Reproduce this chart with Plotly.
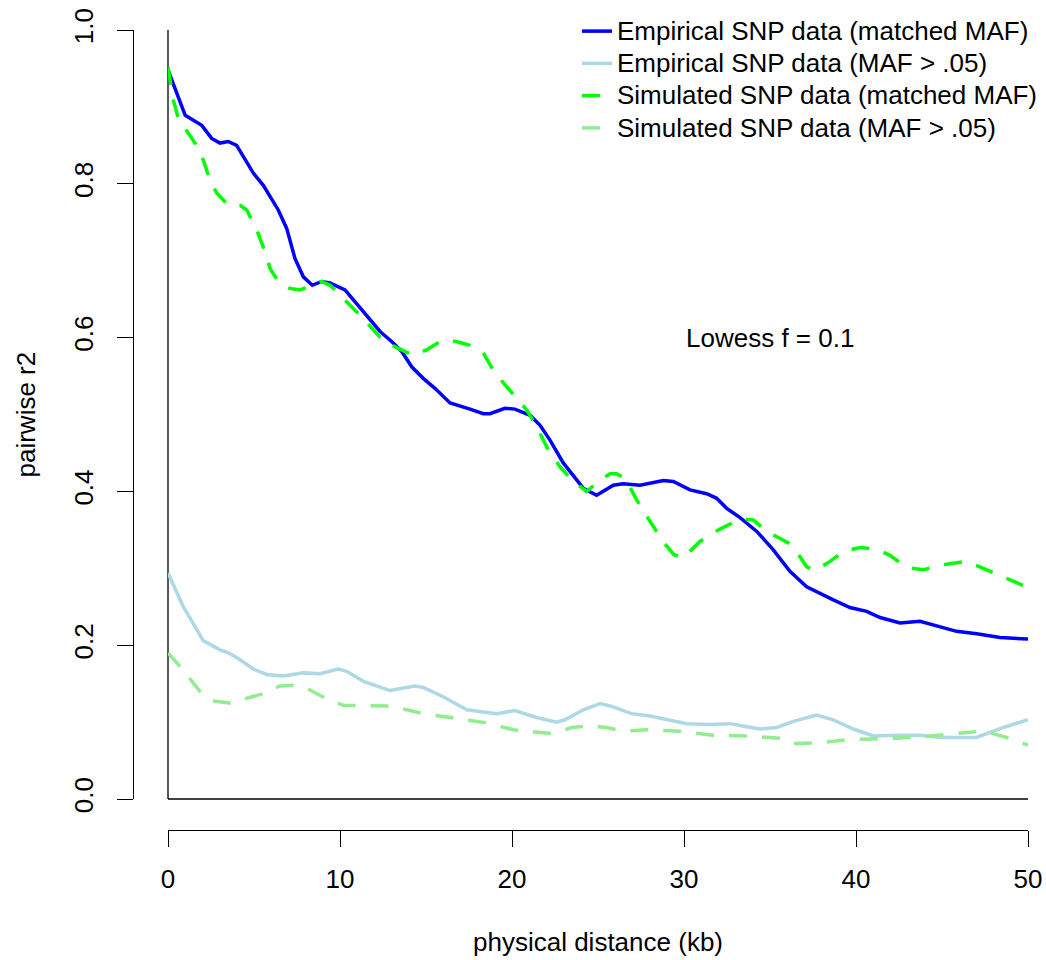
import plotly.graph_objects as go

# ---------------- data ----------------
emp_matched_x = [0, 1.0, 1.96, 2.54, 3.02, 3.5, 3.99, 4.96, 5.54, 6.41, 6.9, 7.38, 7.87, 8.39,
                 8.93, 9.42, 10.29, 10.87, 11.55, 12.33, 13.0, 13.59, 14.17, 14.84, 15.52, 16.4,
                 17.56, 18.33, 18.72, 19.59, 20.17, 21.05, 21.63, 22.2, 22.98, 24.15, 24.92,
                 25.89, 26.47, 27.44, 28.8, 29.38, 30.35, 31.32, 31.9, 32.48, 33.26, 34.23,
                 35.19, 36.16, 37.13, 38.1, 38.68, 39.65, 40.62, 41.4, 42.56, 43.72, 44.88,
                 45.85, 47.02, 48.37, 50]
emp_matched_y = [0.948, 0.889, 0.876, 0.859, 0.853, 0.855, 0.850, 0.814, 0.798, 0.766, 0.742,
                 0.703, 0.679, 0.668, 0.673, 0.671, 0.662, 0.647, 0.629, 0.608, 0.595, 0.582,
                 0.562, 0.547, 0.534, 0.515, 0.507, 0.501, 0.501, 0.508, 0.507, 0.499, 0.486,
                 0.467, 0.437, 0.404, 0.395, 0.408, 0.410, 0.408, 0.414, 0.413, 0.402, 0.397,
                 0.391, 0.378, 0.366, 0.348, 0.324, 0.296, 0.276, 0.265, 0.259, 0.249, 0.244,
                 0.236, 0.229, 0.231, 0.224, 0.218, 0.215, 0.210, 0.208]

emp_maf_x = [0, 0.89, 2.05, 3.02, 3.51, 3.99, 4.96, 5.74, 6.71, 7.87, 8.84, 9.9, 10.39, 11.36,
             12.91, 14.36, 14.84, 16.0, 17.37, 19.11, 20.17, 21.43, 22.59, 23.08, 24.15, 25.12,
             25.7, 26.96, 28.02, 29.0, 30.16, 31.51, 32.67, 33.64, 34.42, 35.39, 36.36, 37.71,
             38.68, 39.84, 41.0, 42.36, 43.72, 44.88, 45.85, 47.0, 47.6, 48.57, 50]
emp_maf_y = [0.294, 0.250, 0.206, 0.194, 0.190, 0.184, 0.169, 0.162, 0.160, 0.164, 0.163,
             0.169, 0.166, 0.153, 0.141, 0.147, 0.145, 0.133, 0.116, 0.111, 0.115, 0.106,
             0.100, 0.103, 0.116, 0.124, 0.121, 0.111, 0.108, 0.103, 0.098, 0.097, 0.098,
             0.094, 0.091, 0.093, 0.101, 0.109, 0.103, 0.091, 0.082, 0.083, 0.083, 0.080,
             0.080, 0.080, 0.085, 0.093, 0.103]

sim_matched_x = [0, 0.31, 0.6, 1.09, 1.57, 2.05, 2.44, 2.83, 3.51, 4.19, 4.58, 5.16, 5.64, 5.93,
                 6.41, 7.09, 7.67, 8.16, 8.93, 9.42, 9.81, 10.58, 11.26, 11.94, 12.52, 13.3,
                 14.26, 15.03, 15.9, 16.77, 17.56, 18.33, 19.01, 19.5, 20.27, 20.85, 21.44,
                 22.11, 22.79, 23.57, 24.34, 24.92, 25.7, 26.08, 26.57, 27.25, 28.0, 28.8,
                 29.4, 29.94, 30.93, 32.09, 33.26, 34.03, 34.81, 36.16, 36.74, 37.13, 37.62,
                 38.49, 39.26, 40.23, 41.2, 41.97, 42.94, 43.9, 44.88, 46.43, 47.4, 48.57, 50]
sim_matched_y = [0.952, 0.909, 0.885, 0.868, 0.853, 0.831, 0.805, 0.788, 0.772, 0.772, 0.766,
                 0.740, 0.712, 0.690, 0.673, 0.664, 0.662, 0.666, 0.673, 0.668, 0.660, 0.642,
                 0.627, 0.610, 0.596, 0.587, 0.577, 0.584, 0.596, 0.595, 0.590, 0.580, 0.554,
                 0.541, 0.521, 0.506, 0.484, 0.454, 0.432, 0.413, 0.400, 0.411, 0.423, 0.423,
                 0.417, 0.389, 0.362, 0.334, 0.318, 0.313, 0.335, 0.351, 0.364, 0.363, 0.348,
                 0.332, 0.315, 0.302, 0.297, 0.309, 0.322, 0.327, 0.325, 0.317, 0.301, 0.298,
                 0.304, 0.309, 0.300, 0.289, 0.275]

sim_maf_x = [0, 0.8, 1.96, 2.73, 3.6, 4.58, 5.54, 6.51, 7.29, 8.06, 9.23, 10.19, 11.36, 12.91,
             13.87, 14.84, 16.4, 18.53, 20.08, 21.24, 22.41, 23.47, 24.53, 25.5, 26.47, 27.83,
             29.77, 31.7, 33.64, 35.58, 36.36, 37.91, 39.46, 40.81, 42.36, 44.3, 45.66, 47.21,
             47.98, 48.76, 50]
sim_maf_y = [0.190, 0.170, 0.137, 0.127, 0.125, 0.131, 0.137, 0.147, 0.148, 0.144, 0.130,
             0.122, 0.122, 0.121, 0.116, 0.111, 0.106, 0.099, 0.090, 0.088, 0.085, 0.093,
             0.095, 0.093, 0.088, 0.090, 0.088, 0.083, 0.082, 0.079, 0.072, 0.073, 0.077,
             0.078, 0.079, 0.082, 0.085, 0.088, 0.085, 0.080, 0.070]

series_names = ["Empirical SNP data (matched MAF)", "Empirical SNP data (MAF > .05)",
                "Simulated SNP data (matched MAF)", "Simulated SNP data (MAF > .05)"]

x_ticks = [0, 10, 20, 30, 40, 50]
y_ticks = [0.0, 0.2, 0.4, 0.6, 0.8, 1.0]
y_tick_labels = ["0.0", "0.2", "0.4", "0.6", "0.8", "1.0"]

# ---------------- figure ----------------
FONT = "Liberation Sans, Arial, Helvetica, sans-serif"
W, H = 1046, 960
L, R, T, B = 133, 18, 30, 130
pw, ph = W - L - R, H - T - B

fig = go.Figure()
styles = [
    dict(color="#0000FF", width=3.5, dash="solid"),
    dict(color="#ADD8E6", width=3.5, dash="solid"),
    dict(color="#00FF00", width=3.5, dash="18px,15px"),
    dict(color="#90EE90", width=3.5, dash="18px,15px"),
]
data = [(emp_matched_x, emp_matched_y), (emp_maf_x, emp_maf_y),
        (sim_matched_x, sim_matched_y), (sim_maf_x, sim_maf_y)]
for i, ((xs, ys), name, st) in enumerate(zip(data, series_names, styles)):
    fig.add_trace(go.Scatter(x=xs, y=ys, mode="lines",
                             name=f'<span style="font-size:26px">{name}</span>',
                             line=st, legendgroup=f"g{i}", hoverinfo="skip"))

fig.update_layout(
    width=W, height=H,
    margin=dict(l=L, r=R, t=T, b=B, pad=0, autoexpand=False),
    paper_bgcolor="white", plot_bgcolor="white",
    font=dict(family=FONT, size=26, color="black"),
    showlegend=True,
    legend=dict(x=(577 - L) / pw, xanchor="left", y=1 + 20 / ph, yanchor="top",
                bgcolor="rgba(0,0,0,0)", borderwidth=0, font=dict(size=22.5),
                tracegroupgap=0, itemwidth=30),
    xaxis=dict(domain=[35 / pw, 1], range=[0, 50], anchor="free", position=0,
               showline=True, linecolor="black", linewidth=1.3, ticks="outside",
               ticklen=16, tickwidth=1.3, tickcolor="black", tickvals=x_ticks,
               showgrid=False, zeroline=False, ticklabelstandoff=10,
               tickfont=dict(size=26)),
    yaxis=dict(domain=[31 / ph, 1], range=[0, 1], anchor="free", position=0,
               showline=True, linecolor="black", linewidth=1.3, ticks="outside",
               ticklen=16, tickwidth=1.3, tickcolor="black", tickvals=y_ticks,
               ticktext=y_tick_labels, tickangle=-90,
               showgrid=False, zeroline=False, ticklabelstandoff=13,
               tickfont=dict(size=26)),
    shapes=[
        dict(type="line", xref="x domain", yref="y domain", x0=0, x1=0, y0=0, y1=1,
             line=dict(color="black", width=1.3), layer="below"),
        dict(type="line", xref="x domain", yref="y domain", x0=0, x1=1, y0=0, y1=0,
             line=dict(color="black", width=1.3), layer="below"),
    ],
    annotations=[
        dict(text="Lowess f = 0.1", x=35, y=0.6, xref="x", yref="y", showarrow=False,
             font=dict(size=26), xanchor="center", yanchor="middle"),
        dict(text="physical distance (kb)", x=0.5, y=0, xref="x domain", yref="paper",
             showarrow=False, yanchor="middle", yshift=-112, font=dict(size=26)),
        dict(text="pairwise r2", x=0, y=0.5, xref="paper", yref="y domain",
             showarrow=False, textangle=-90, xanchor="center", xshift=-108,
             font=dict(size=26)),
    ],
)

fig.write_html("out.html")
